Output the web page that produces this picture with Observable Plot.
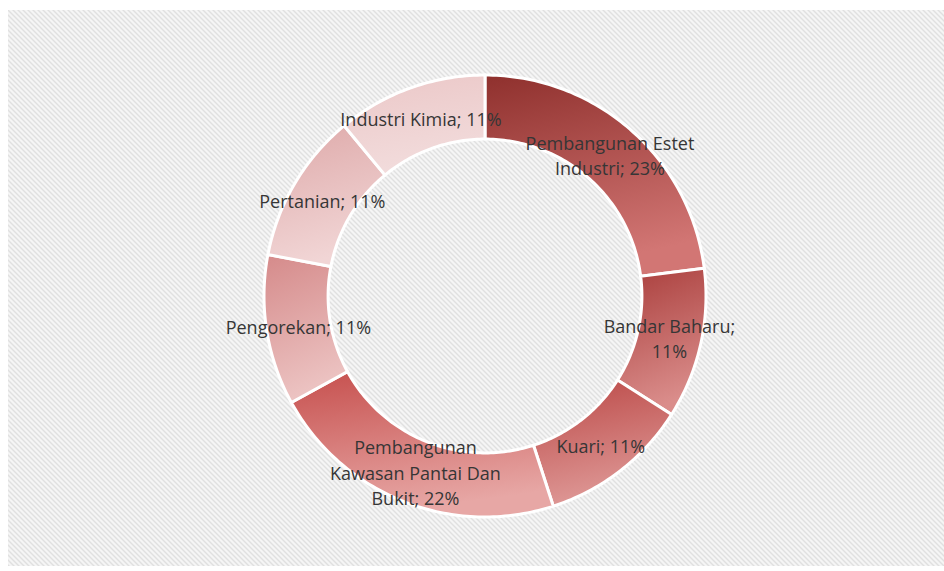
<!DOCTYPE html>
<html><head><meta charset="utf-8">
<script src="https://cdn.jsdelivr.net/npm/d3@7"></script>
<script src="https://cdn.jsdelivr.net/npm/@observablehq/plot@0.6"></script>
<style>
body{margin:0;background:#fff;}
#wrap{position:relative;width:944px;height:571px;overflow:hidden;}
#bg{position:absolute;left:8px;top:10px;width:936px;height:556px;background-color:#f5f5f5;
background-image:url("data:image/svg+xml,%3Csvg xmlns='http://www.w3.org/2000/svg' width='5' height='5'%3E%3Cpath d='M-1,-1L6,6M-1,4L1,6M4,-1L6,1' stroke='%23e0e0e0' stroke-width='1.4'/%3E%3C/svg%3E");}
#chart{position:absolute;left:0;top:0;}
</style></head><body>
<div id="wrap"><div id="bg"></div><div id="chart"></div></div>
<script>
const categories = ["Pembangunan Estet Industri","Bandar Baharu","Kuari","Pembangunan Kawasan Pantai Dan Bukit","Pengorekan","Pertanian","Industri Kimia"];
const values = [23, 11, 11, 22, 11, 11, 11];
const labelTexts = ["Pembangunan Estet\nIndustri; 23%","Bandar Baharu;\n11%","Kuari; 11%","Pembangunan\nKawasan Pantai Dan\nBukit; 22%","Pengorekan; 11%","Pertanian; 11%","Industri Kimia; 11%"];
const colorsTop = ["#8f302d","#a93d3b","#bb4846","#c64f4d","#d58a8a","#dea9a9","#ebc7c7"];
const colorsBottom = ["#d27674","#da8d8b","#de9896","#e7a7a5","#ecc3c2","#f1d5d5","#f2dcdc"];

const innerRatio = 0.71;
const arcs = d3.pie().sort(null).value(d => d)(values);
const slices = arcs.map((a, i) => {
  const n = Math.ceil((a.endAngle - a.startAngle) / (Math.PI / 180)) + 1;
  const pts = [];
  for (let k = 0; k < n; k++) {
    const t = a.startAngle + (a.endAngle - a.startAngle) * k / (n - 1);
    pts.push({x: Math.sin(t), y: Math.cos(t), name: categories[i]});
  }
  for (let k = n - 1; k >= 0; k--) {
    const t = a.startAngle + (a.endAngle - a.startAngle) * k / (n - 1);
    pts.push({x: innerRatio * Math.sin(t), y: innerRatio * Math.cos(t), name: categories[i]});
  }
  return pts;
});
const midR = (1 + innerRatio) / 2;
const labels = arcs.map((a, i) => {
  const m = (a.startAngle + a.endAngle) / 2;
  return {x: midR * Math.sin(m), y: midR * Math.cos(m), text: labelTexts[i]};
});

const plot = Plot.plot({
  width: 944, height: 571,
  marginLeft: 263.5, marginRight: 238.5, marginTop: 74.5, marginBottom: 54.5,
  x: {domain: [-1, 1], axis: null},
  y: {domain: [-1, 1], axis: null},
  style: {background: "transparent", fontFamily: "'Open Sans', sans-serif"},
  marks: [
    ...slices.map((pts, i) => Plot.line(pts, {x: "x", y: "y", fill: `url(#g${i})`, stroke: "white", strokeWidth: 3, curve: "linear-closed"})),
    Plot.text(labels, {x: "x", y: "y", text: "text", fontSize: 18, fill: "#363636", lineHeight: 1.42})
  ]
});
const svg = d3.select(plot);
const defs = svg.insert("defs", ":first-child");
colorsTop.forEach((c, i) => {
  const g = defs.append("linearGradient").attr("id", `g${i}`).attr("x1", 0).attr("y1", 0).attr("x2", 0.25).attr("y2", 1);
  g.append("stop").attr("offset", 0).attr("stop-color", c);
  g.append("stop").attr("offset", 1).attr("stop-color", colorsBottom[i]);
});
document.getElementById("chart").appendChild(plot);
</script>
</body></html>
